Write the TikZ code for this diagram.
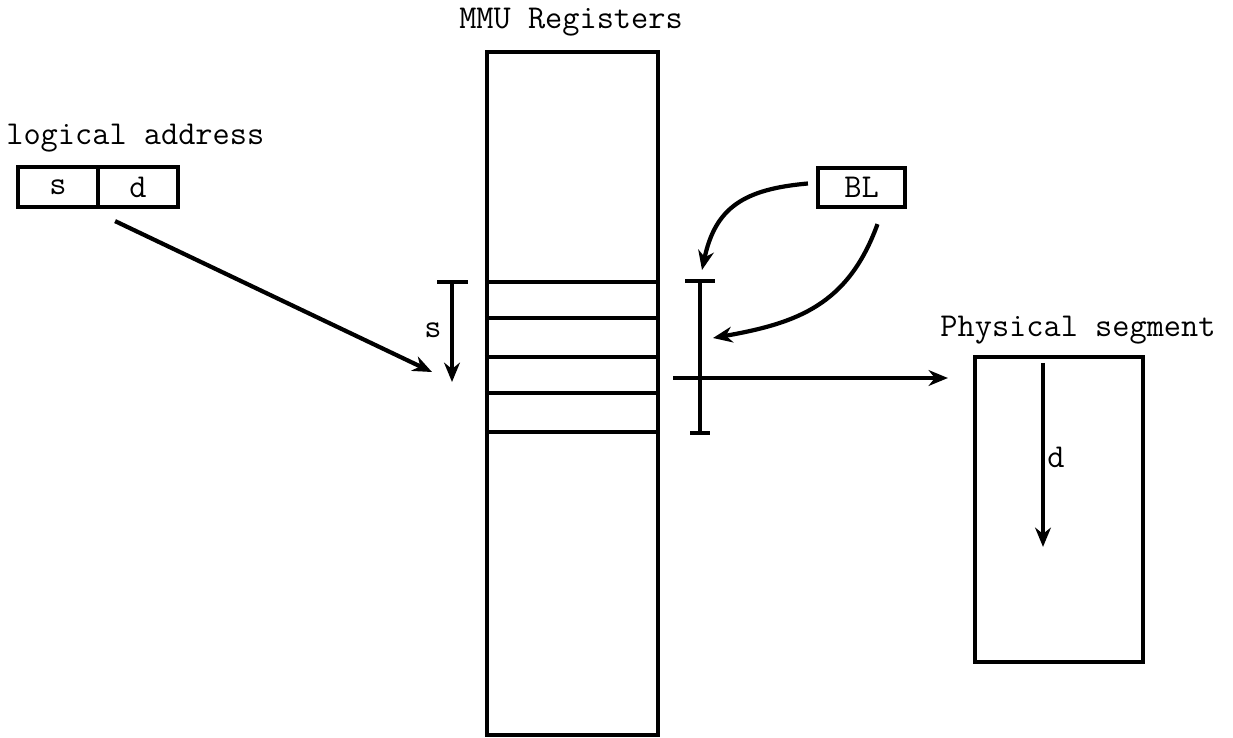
\documentclass[tikz,border=0pt]{standalone}
\usepackage{fontspec}
\usetikzlibrary{arrows.meta, positioning, calc}

\begin{document}
\begin{tikzpicture}[
    x=0.02cm, y=-0.02cm,
    lbl/.style={font=\ttfamily\fontsize{19}{21}\selectfont, inner sep=0pt},
    cell/.style={
        rectangle, draw, line width=2.4pt, inner sep=0pt,
        minimum height=0.8cm, font=\ttfamily\fontsize{19}{21}\selectfont
    },
    arr/.style={-{Stealth[length=11pt, width=9pt]}, line width=2.4pt},
    bar/.style={line width=2.4pt}
]
\useasboundingbox (0,0) rectangle (1233,737);

% ===================================================================
% MMU REGISTERS
% ===================================================================
\node[lbl] (mmutitle) at (571,22) {MMU Registers};
\node[draw, line width=2.4pt, minimum width=3.42cm, minimum height=13.66cm,
      inner sep=0pt] (mmu) at (572.5,393.5) {};
\foreach \ry in {282,318,357,393,432}
    \draw[bar] (mmu.west |- 0,\ry) -- (mmu.east |- 0,\ry);

% ===================================================================
% LOGICAL ADDRESS
% ===================================================================
\node[lbl, anchor=west] (ladtitle) at (6,138) {logical address};
\node[cell, minimum width=1.6cm] (segs) at (58,187) {s};
\node[cell, minimum width=1.6cm, right=-2.4pt of segs] (segd) {d};

% s offset into the register file
\coordinate (stop) at (452,282);
\coordinate (sbot) at (452,382);
\coordinate (sin) at (432,372);
\draw[bar] ($(stop)+(-15,0)$) -- ($(stop)+(16,0)$);
\draw[arr] (stop) -- (sbot);
\node[lbl] (slbl) at (433,330) {s};
\draw[arr] ($(segs.south east)+(15,12)$) -- (sin);

% ===================================================================
% BASE / LIMIT
% ===================================================================
\node[cell, minimum width=1.74cm, minimum height=0.78cm] (bl)
    at (861.5,187.5) {BL};

\coordinate (btop) at (700,281);
\coordinate (bbot) at (700,433);
\draw[bar] (btop) -- (bbot);
\draw[bar] ($(btop)+(-15,0)$) -- ($(btop)+(15,0)$);
\draw[bar] ($(bbot)+(-10,0)$) -- ($(bbot)+(10,0)$);

\draw[arr] ($(bl.west)+(-8,-4)$) to[out=185, in=78, looseness=1.2] (702,270);
\draw[arr] ($(bl.south)+(16,15)$) to[out=-110, in=10, looseness=1.1] (713,338);

% ===================================================================
% PHYSICAL SEGMENT
% ===================================================================
\node[draw, line width=2.4pt, minimum width=3.36cm, minimum height=6.1cm,
      inner sep=0pt] (phys) at (1059,509.5) {};
\node[lbl] (phystitle) at (1078,330) {Physical segment};

\coordinate (pfrom) at (673,378);
\draw[arr] (pfrom) -- ($(phys.west |- pfrom)+(-25,0)$);

\draw[arr] ($(phys.north)+(-16,8)$) -- ($(phys.north)+(-16,192)$);
\node[lbl, anchor=west] (dlbl) at (1047,457) {d};

\end{tikzpicture}
\end{document}
